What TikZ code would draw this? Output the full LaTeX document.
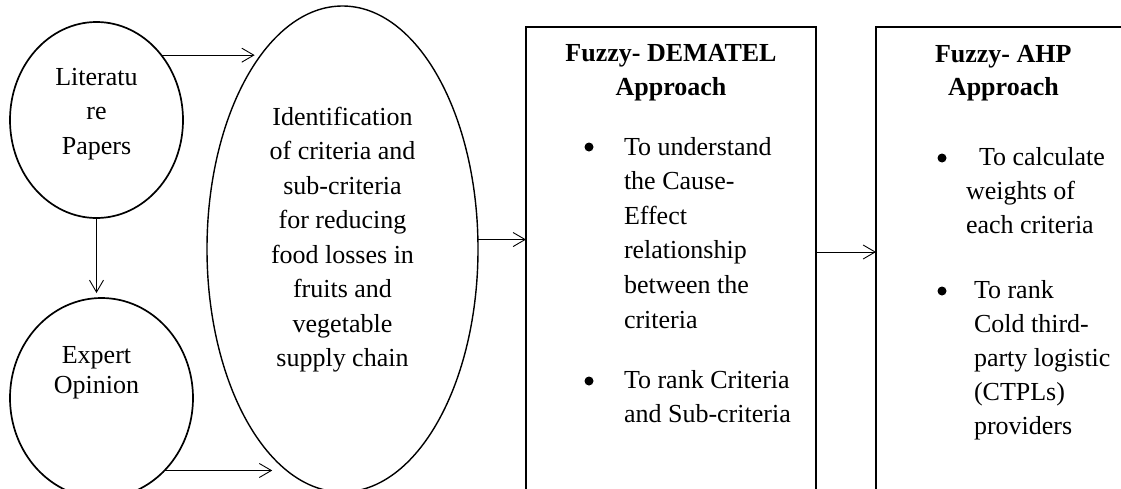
\documentclass[tikz,border=0pt]{standalone}
\usepackage{fontspec}
\setmainfont{Liberation Serif}
\usetikzlibrary{shapes.geometric,arrows.meta}
\begin{document}
\begin{tikzpicture}[x=1pt,y=-1pt,
  shp/.style={draw, line width=1.7pt, inner sep=0pt, outer sep=0pt},
  oval/.style={shp, ellipse},
  boxs/.style={shp, rectangle, anchor=north west},
  arr/.style={line width=0.9pt, -{Straight Barb[length=12pt,width=14pt,line width=0.9pt]}},
  txt/.style={font=\fontsize{26}{34.5}\selectfont, inner sep=0pt, outer sep=0pt},
  dot/.style={circle, fill, inner sep=0pt, minimum size=9pt}]
\useasboundingbox (0,0) rectangle (1121,488);
\clip (0,0) rectangle (1121,488);
% shapes
\node[oval, minimum width=173pt, minimum height=196pt] (lit) at (96.5,120) {};
\node[oval, minimum width=183pt, minimum height=200pt] (exp) at (101.5,398) {};
\node[oval, line width=1.4pt, minimum width=271pt, minimum height=486pt] (ide) at (342.5,249) {};
\node[boxs, minimum width=290pt, minimum height=493pt] (dem) at (526,27) {};
\node[boxs, minimum width=300pt, minimum height=493pt] (ahp) at (876,27) {};
% texts
\node[txt, align=center, anchor=north] (litT) at (96.5,65) {\rule{0pt}{20pt}Literatu\\re\\Papers};
\node[txt, font=\fontsize{26}{30}\selectfont, align=center, anchor=north] (expT) at (96.5,343) {\rule{0pt}{20pt}Expert\\Opinion};
\node[txt, align=center, anchor=north] (ideT) at (342.5,105) {\rule{0pt}{20pt}Identification\\of criteria and\\sub-criteria\\for reducing\\food losses in\\fruits and\\vegetable\\supply chain};
\node[txt, font=\bfseries\fontsize{26}{34}\selectfont, align=center, anchor=north] (demH) at (671,41) {\rule{0pt}{20pt}Fuzzy- DEMATEL\\Approach};
\node[dot] (demD1) at (589,147) {};
\node[txt, font=\fontsize{26}{34.6}\selectfont, align=left, anchor=north west] (demA) at (624,135) {\rule{0pt}{20pt}To understand\\the Cause-\\Effect\\relationship\\between the\\criteria};
\node[dot] (demD2) at (589,381) {};
\node[txt, font=\fontsize{26}{34.6}\selectfont, align=left, anchor=north west] (demB) at (624,368) {\rule{0pt}{20pt}To rank Criteria\\and Sub-criteria};
\node[txt, font=\bfseries\fontsize{26}{33}\selectfont, align=left, anchor=north west] (ahpH) at (935,42) {\rule{0pt}{20pt}Fuzzy- AHP\\\hspace*{13pt}Approach};
\node[dot] (ahpD1) at (942,158) {};
\node[txt, font=\fontsize{26}{34}\selectfont, align=left, anchor=north west] (ahpA) at (966,145) {\rule{0pt}{20pt}\hspace*{13pt}To calculate\\weights of\\each criteria};
\node[dot] (ahpD2) at (942,291) {};
\node[txt, font=\fontsize{26}{34}\selectfont, align=left, anchor=north west] (ahpB) at (974,278) {\rule{0pt}{20pt}To rank\\Cold third-\\party logistic\\(CTPLs)\\providers};
% connectors
\draw[arr, shorten >=11pt] (lit.45) -- (lit.45 -| ide.111.7);
\draw[arr, shorten >=5pt] (lit.south) -- (lit.south |- exp.north);
\draw[arr, shorten >=22pt] (exp.-49.5) -- (exp.-49.5 -| ide.-102.7);
\draw[arr] (ide.4) -- (ide.4 -| dem.west);
\draw[arr] ([yshift=21.5pt]dem.east) -- ([yshift=21.5pt]dem.east -| ahp.west);
\end{tikzpicture}
\end{document}
